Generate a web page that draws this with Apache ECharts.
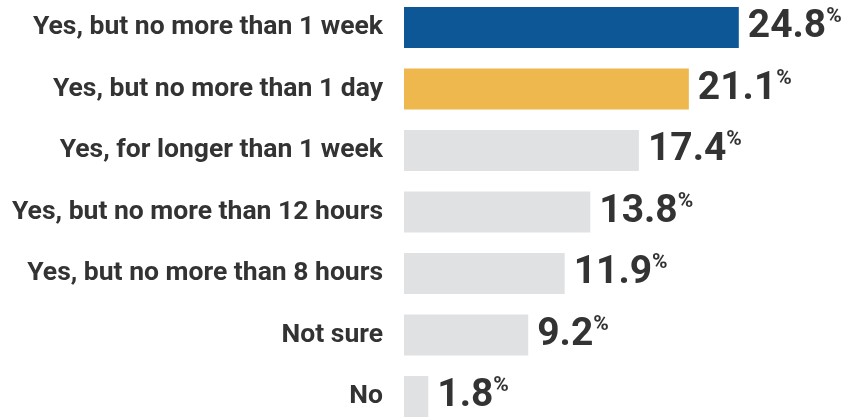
<!DOCTYPE html>
<html>
<head>
<meta charset="utf-8">
<script src="https://cdn.jsdelivr.net/npm/echarts@6/dist/echarts.min.js"></script>
<style>
  html, body { margin: 0; padding: 0; background: #fff; }
  #chart { width: 856px; height: 417px; }
</style>
</head>
<body>
<div id="chart"></div>
<script>
// Survey answers, top to bottom
const categories = [
  'Yes, but no more than 1 week',
  'Yes, but no more than 1 day',
  'Yes, for longer than 1 week',
  'Yes, but no more than 12 hours',
  'Yes, but no more than 8 hours',
  'Not sure',
  'No'
];
// Share of respondents (%)
const values = [24.8, 21.1, 17.4, 13.8, 11.9, 9.2, 1.8];
// Fill colours: first two answers highlighted, the rest neutral
const barColors = ['#0d5797', '#efb84f', '#e0e1e3', '#e0e1e3', '#e0e1e3', '#e0e1e3', '#e0e1e3'];

const chart = echarts.init(document.getElementById('chart'), null, { renderer: 'canvas' });

const textColor = '#333333';
const fontFamily = 'Roboto, "Noto Sans", Arial, sans-serif';

chart.setOption({
  animation: false,
  grid: {
    left: 404,
    right: 47,
    top: -3.25,
    height: 430.5,
    outerBoundsMode: 'none',
    containLabel: false
  },
  xAxis: {
    type: 'value',
    min: 0,
    max: 30,
    show: false
  },
  yAxis: {
    type: 'category',
    inverse: true,
    data: categories,
    axisLine: { show: false },
    axisTick: { show: false },
    splitLine: { show: false },
    axisLabel: {
      margin: 21,
      color: textColor,
      fontFamily: fontFamily,
      fontWeight: 'bold',
      fontSize: 26.5
    }
  },
  series: [{
    type: 'bar',
    barWidth: 41,
    data: values.map((v, i) => ({ value: v, itemStyle: { color: barColors[i] } })),
    label: {
      show: true,
      position: 'right',
      distance: 9,
      formatter: p => '{v|' + p.value.toFixed(1) + '}{p|%}',
      rich: {
        v: {
          color: textColor,
          fontFamily: fontFamily,
          fontWeight: 'bold',
          fontSize: 39,
          lineHeight: 42
        },
        p: {
          color: textColor,
          fontFamily: fontFamily,
          fontWeight: 'bold',
          fontSize: 21,
          lineHeight: 28,
          verticalAlign: 'top'
        }
      }
    }
  }]
});
</script>
</body>
</html>
